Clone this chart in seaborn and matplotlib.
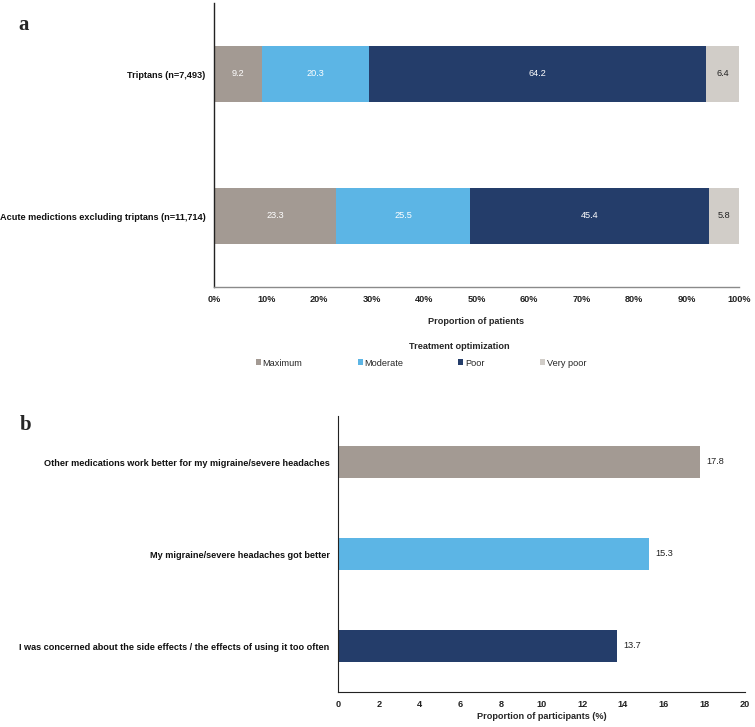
import matplotlib
matplotlib.use("Agg")
import matplotlib.pyplot as plt
import seaborn as sns
import pandas as pd
import numpy as np
from matplotlib.patches import Patch

sns.set_style("white")
plt.rcParams['font.family'] = ['Liberation Sans', 'DejaVu Sans']

# ---- Data ----
groups_a = ["Triptans (n=7,493)", "Acute medictions excluding triptans (n=11,714)"]
levels = ["Maximum", "Moderate", "Poor", "Very poor"]
maximum = [9.2, 23.3]
moderate = [20.3, 25.5]
poor = [64.2, 45.4]
very_poor = [6.4, 5.8]
xticks_a = [0, 10, 20, 30, 40, 50, 60, 70, 80, 90, 100]

reasons_b = ["Other medications work better for my migraine/severe headaches",
             "My migraine/severe headaches got better",
             "I was concerned about the side effects / the effects of using it too often"]
values_b = [17.8, 15.3, 13.7]
xticks_b = [0, 2, 4, 6, 8, 10, 12, 14, 16, 18, 20]

colors = ["#A39A93", "#5CB5E5", "#243D6A", "#D1CDC8"]
text_colors = ["white", "white", "white", "#222222"]

fs = 6.6

fig = plt.figure(figsize=(7.55, 7.27), dpi=100)

# ---- Panel a ----
ax1 = fig.add_axes([214/755, 1-287/727, (739-214)/755, (287-3)/727])
dfa = pd.DataFrame({"group": groups_a, "Maximum": maximum, "Moderate": moderate,
                    "Poor": poor, "Very poor": very_poor})
cum = dfa[levels].cumsum(axis=1)
for i in range(len(levels) - 1, -1, -1):
    lev = levels[i]
    sns.barplot(x=cum[lev], y=dfa["group"], orient="h", color=colors[i],
                width=0.4, ax=ax1, saturation=1, linewidth=0)
for j in range(len(groups_a)):
    start = 0
    for i, lev in enumerate(levels):
        v = dfa[lev][j]
        ax1.text(start + v / 2, j, f"{v:.1f}", ha="center", va="center",
                 color=text_colors[i], fontsize=fs)
        start += v
ax1.set_xlim(0, 100)
ax1.set_ylim(1.5, -0.5)
ax1.set_xticks(xticks_a)
ax1.set_xticklabels([f"{t}%" for t in xticks_a], fontsize=fs, fontweight="bold", color="#222222")
ax1.set_yticks(range(len(groups_a)))
ax1.set_yticklabels(groups_a, fontsize=fs, fontweight="bold", color="#111111")
ax1.set_xlabel("Proportion of patients", fontsize=fs, fontweight="bold", labelpad=9)
ax1.set_ylabel("")
ax1.tick_params(axis="both", length=0, pad=6)
for s in ["top", "right"]:
    ax1.spines[s].set_visible(False)
ax1.spines["left"].set_color("#222222")
ax1.spines["left"].set_linewidth(1.0)
ax1.spines["bottom"].set_color("#8A8A8A")
ax1.spines["bottom"].set_linewidth(1.0)

fig.text(459/755, 1-346/727, "Treatment optimization", ha="center", va="center",
         fontsize=fs, fontweight="bold")
handles = [Patch(facecolor=c, edgecolor="none") for c in colors]
fig.legend(handles, levels, loc="center", bbox_to_anchor=(421/755, 1-363/727),
           ncol=4, frameon=False, fontsize=fs, handlelength=0.55, handleheight=0.55,
           handletextpad=0.2, columnspacing=6.0, borderpad=0)

fig.text(18/755, 1-25/727, "a", fontsize=15, fontweight="bold",
         family=["Liberation Serif"], ha="left", va="center")

# ---- Panel b ----
ax2 = fig.add_axes([338/755, 1-692/727, (745-338)/755, (692-416)/727])
dfb = pd.DataFrame({"reason": reasons_b, "value": values_b})
sns.barplot(data=dfb, x="value", y="reason", hue="reason", palette=colors[:3],
            orient="h", width=0.35, ax=ax2, saturation=1, legend=False, linewidth=0)
for j, v in enumerate(values_b):
    ax2.text(v + 0.3, j, f"{v:.1f}", ha="left", va="center", fontsize=fs, color="#222222")
ax2.set_xlim(0, 20)
ax2.set_ylim(2.5, -0.5)
ax2.set_xticks(xticks_b)
ax2.set_xticklabels([str(t) for t in xticks_b], fontsize=fs, fontweight="bold", color="#222222")
ax2.set_yticks(range(len(reasons_b)))
ax2.set_yticklabels(reasons_b, fontsize=fs, fontweight="bold", color="#111111")
ax2.set_xlabel("Proportion of participants (%)", fontsize=fs, fontweight="bold", labelpad=2)
ax2.set_ylabel("")
ax2.tick_params(axis="both", length=0, pad=6)
for s in ["top", "right"]:
    ax2.spines[s].set_visible(False)
ax2.spines["left"].set_color("#222222")
ax2.spines["bottom"].set_color("#222222")

fig.text(20/755, 1-425/727, "b", fontsize=15, fontweight="bold",
         family=["Liberation Serif"], ha="left", va="center")

fig.savefig("out.png", dpi=100, facecolor="white")
